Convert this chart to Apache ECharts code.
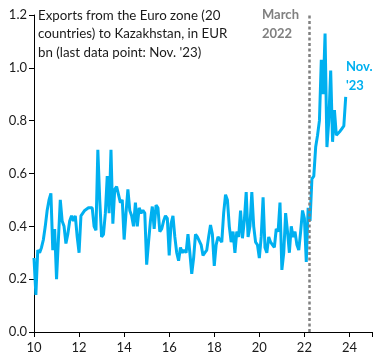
<!DOCTYPE html>
<html><head><meta charset="utf-8">
<script src="https://cdn.jsdelivr.net/npm/echarts@6/dist/echarts.min.js"></script>
<style>html,body{margin:0;padding:0;background:#fff}#c{width:384px;height:361px}</style>
</head><body><div id="c"></div>
<script>
// Monthly exports, EUR bn, Jan 2010 .. Nov 2023 (one row per year)
const v2010 = [0.28,0.14,0.31,0.30,0.32,0.35,0.40,0.46,0.50,0.525,0.31,0.39];
const v2011 = [0.20,0.35,0.50,0.42,0.40,0.335,0.37,0.42,0.44,0.42,0.44,0.36];
const v2012 = [0.30,0.44,0.44,0.46,0.465,0.47,0.47,0.47,0.40,0.385,0.69,0.50];
const v2013 = [0.36,0.37,0.45,0.59,0.45,0.69,0.41,0.54,0.55,0.52,0.49,0.50];
const v2014 = [0.35,0.45,0.54,0.46,0.44,0.40,0.49,0.40,0.47,0.45,0.46,0.45];
const v2015 = [0.255,0.34,0.42,0.475,0.39,0.48,0.47,0.38,0.39,0.42,0.44,0.43];
const v2016 = [0.29,0.41,0.44,0.36,0.30,0.27,0.32,0.30,0.31,0.30,0.37,0.30];
const v2017 = [0.22,0.28,0.37,0.36,0.36,0.33,0.29,0.30,0.31,0.36,0.405,0.37];
const v2018 = [0.25,0.33,0.36,0.35,0.34,0.45,0.52,0.50,0.40,0.34,0.38,0.30];
const v2019 = [0.38,0.36,0.46,0.355,0.42,0.53,0.36,0.40,0.53,0.40,0.34,0.33];
const v2020 = [0.28,0.36,0.51,0.32,0.30,0.36,0.34,0.33,0.32,0.39,0.38,0.49];
const v2021 = [0.235,0.30,0.45,0.38,0.30,0.40,0.36,0.38,0.33,0.31,0.38,0.46];
const v2022 = [0.43,0.265,0.47,0.42,0.58,0.59,0.70,0.745,0.80,1.03,0.90,1.13];
const v2023 = [0.70,0.80,0.99,0.72,0.84,0.745,0.75,0.76,0.77,0.78,0.89];
const startYear = 10; // 2010, axis shows two-digit years
const xTicks = [10,12,14,16,18,20,22,24];
const yTicks = [0.0,0.2,0.4,0.6,0.8,1.0,1.2];
const marchLine = 22.2; // March 2022
const titleLines = ["Exports from the Euro zone (20","countries) to Kazakhstan, in EUR","bn (last data point: Nov. '23)"];
const marchLabel = ["March","2022"];
const lastLabel = ["Nov.","'23"];

const values = [].concat(v2010,v2011,v2012,v2013,v2014,v2015,v2016,v2017,v2018,v2019,v2020,v2021,v2022,v2023);
const data = values.map((v,i)=>[startYear + i/12, v]);

const chart = echarts.init(document.getElementById('c'), null, {renderer:'canvas'});
const font = 'Lato, "Open Sans", sans-serif';
chart.setOption({
  animation:false,
  backgroundColor:'#fff',
  grid:{left:34,right:12,top:15,bottom:29,containLabel:false},
  xAxis:{type:'value',min:xTicks[0],max:25,interval:2,
    axisLine:{show:true,onZero:false,lineStyle:{color:'#000',width:1}},
    axisTick:{show:true,length:5,lineStyle:{color:'#000'}},
    splitLine:{show:false},
    axisLabel:{color:'#1a1a1a',fontFamily:font,fontSize:13,margin:9,
      formatter:v=>xTicks.includes(v)?String(v):''}
  },
  yAxis:{type:'value',min:yTicks[0],max:yTicks[yTicks.length-1],interval:0.2,
    axisLine:{show:true,lineStyle:{color:'#000',width:1}},
    axisTick:{show:true,length:5,lineStyle:{color:'#000'}},
    splitLine:{show:false},
    axisLabel:{color:'#1a1a1a',fontFamily:font,fontSize:13,margin:7,formatter:v=>v.toFixed(1)}
  },
  series:[{
    type:'line',data:data,showSymbol:false,symbol:'none',
    lineStyle:{color:'#00b0f0',width:3},
    markLine:{silent:true,symbol:'none',label:{show:false},
      lineStyle:{color:'#808080',type:[3,2.5],width:2.5},
      data:[{xAxis:marchLine}]}
  }],
  graphic:[
    {type:'text',left:38,top:6,style:{text:titleLines.join('\n'),fill:'#1a1a1a',font:'13.3px '+font,lineHeight:18.5}},
    {type:'text',left:262,top:6,style:{text:marchLabel.join('\n'),fill:'#808080',font:'bold 13px '+font,lineHeight:18.5}},
    {type:'text',left:346,top:58,style:{text:lastLabel.join('\n'),fill:'#00b0f0',font:'bold 13px '+font,lineHeight:18.5}}
  ]
});
</script></body></html>
